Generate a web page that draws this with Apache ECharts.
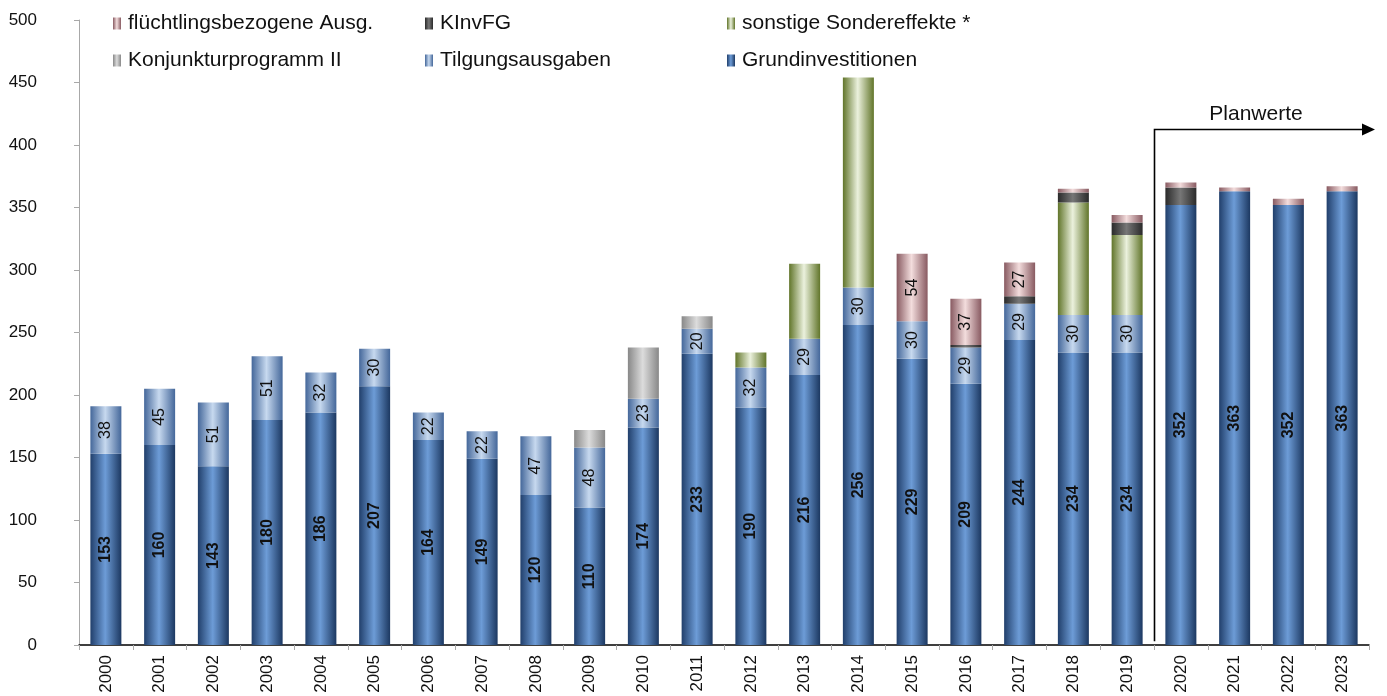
<!DOCTYPE html>
<html>
<head>
<meta charset="utf-8">
<script src="https://cdn.jsdelivr.net/npm/echarts@6/dist/echarts.min.js"></script>
<style>
  html, body { margin: 0; padding: 0; background: #fff; }
  #chart { width: 1387px; height: 696px; }
</style>
</head>
<body>
<div id="chart"></div>
<script>
// Jahre und Ausgabenkomponenten (Mio. EUR)
const years = ['2000','2001','2002','2003','2004','2005','2006','2007','2008','2009','2010','2011',
               '2012','2013','2014','2015','2016','2017','2018','2019','2020','2021','2022','2023'];
const grundinvestitionen = [153,160,143,180,186,207,164,149,120,110,174,233,190,216,256,229,209,244,234,234,352,363,352,363];
const tilgungsausgaben   = [38,45,51,51,32,30,22,22,47,48,23,20,32,29,30,30,29,29,30,30,0,0,0,0];
const konjunkturprogramm = [0,0,0,0,0,0,0,0,0,14,41,10,0,0,0,0,0,0,0,0,0,0,0,0];
const sondereffekte      = [0,0,0,0,0,0,0,0,0,0,0,0,12,60,168,0,0,0,90,64,0,0,0,0];
const kinvfg             = [0,0,0,0,0,0,0,0,0,0,0,0,0,0,0,0,2,6,8,10,14,0,0,0];
const fluechtlinge       = [0,0,0,0,0,0,0,0,0,0,0,0,0,0,0,54,37,27,3,6,4,3,5,4];
const yTicks = { min: 0, max: 500, interval: 50 };
const planStart = '2020';

const FONT = '"Liberation Sans", Arial, sans-serif';

function grad(edgeL, mid, edgeR) {
  return new echarts.graphic.LinearGradient(0, 0, 1, 0, [
    { offset: 0, color: edgeL },
    { offset: 0.48, color: mid },
    { offset: 1, color: edgeR }
  ]);
}

const seriesDefs = [
  { name: 'Grundinvestitionen', data: grundinvestitionen, color: grad('#213f6b', '#6d9cd7', '#1c3861'),
    label: { show: true, fontWeight: 'bold', minValue: 1 } },
  { name: 'Tilgungsausgaben', data: tilgungsausgaben, color: grad('#44679a', '#c7d9ef', '#44679a'),
    label: { show: true, fontWeight: 'normal', minValue: 1 } },
  { name: 'Konjunkturprogramm II', data: konjunkturprogramm, color: grad('#888888', '#dcdcdc', '#888888') },
  { name: 'sonstige Sondereffekte *', data: sondereffekte, color: grad('#61752a', '#ebf1dd', '#61752a') },
  { name: 'KInvFG', data: kinvfg, color: grad('#2a2a2a', '#777777', '#2a2a2a') },
  { name: 'flüchtlingsbezogene Ausg.', data: fluechtlinge, color: grad('#885a61', '#f3dddd', '#885a61'),
    label: { show: true, fontWeight: 'normal', minValue: 20 } }
];

const series = seriesDefs.map(d => ({
  name: d.name,
  type: 'bar',
  stack: 'total',
  barWidth: 31,
  data: d.data,
  itemStyle: { color: d.color },
  label: d.label ? {
    show: true,
    position: 'inside',
    rotate: 90,
    fontFamily: FONT,
    fontSize: 16,
    fontWeight: d.label.fontWeight,
    color: '#111',
    formatter: p => (p.value >= d.label.minValue ? String(p.value) : '')
  } : { show: false },
  emphasis: { disabled: true }
}));

// Legende: zwei Zeilen mit je drei Einträgen
const legendLayout = [
  { name: 'flüchtlingsbezogene Ausg.', left: 113, top: 13 },
  { name: 'KInvFG', left: 425, top: 13 },
  { name: 'sonstige Sondereffekte *', left: 727, top: 13 },
  { name: 'Konjunkturprogramm II', left: 113, top: 50 },
  { name: 'Tilgungsausgaben', left: 425, top: 50 },
  { name: 'Grundinvestitionen', left: 727, top: 50 }
];
const legends = legendLayout.map(l => ({
  data: [l.name],
  left: l.left,
  top: l.top,
  itemWidth: 8,
  itemHeight: 12,
  itemGap: 0,
  padding: 0,
  icon: 'rect',
  selectedMode: false,
  textStyle: { fontFamily: FONT, fontSize: 21, color: '#111', padding: [0, 0, 0, 2] }
}));

const chart = echarts.init(document.getElementById('chart'), null, { renderer: 'canvas' });
chart.setOption({
  animation: false,
  backgroundColor: '#fff',
  legend: legends,
  grid: { left: 79, right: 18, top: 20, bottom: 51, containLabel: false },
  xAxis: {
    type: 'category',
    data: years,
    axisLine: { lineStyle: { color: '#000', width: 1.5 } },
    axisTick: { show: true, length: 5, lineStyle: { color: '#aaa' } },
    axisLabel: { rotate: 90, margin: 10, fontFamily: FONT, fontSize: 17, color: '#111' }
  },
  yAxis: {
    type: 'value',
    min: yTicks.min,
    max: yTicks.max,
    interval: yTicks.interval,
    axisLine: { show: true, lineStyle: { color: '#a8a8a8' } },
    axisTick: { show: true, length: 5, lineStyle: { color: '#a8a8a8' } },
    splitLine: { show: false },
    axisLabel: { margin: 42, fontFamily: FONT, fontSize: 17, color: '#111' }
  },
  series
});

// Markierung der Planwerte ab 2020
function drawPlan() {
  const idx = years.indexOf(planStart);
  const xPrev = chart.convertToPixel({ xAxisIndex: 0 }, years[idx - 1]);
  const xCur = chart.convertToPixel({ xAxisIndex: 0 }, years[idx]);
  const x = Math.round((xPrev + xCur) / 2) + 0.5;
  const yTop = Math.round(chart.convertToPixel({ yAxisIndex: 0 }, 413)) + 0.5;
  const yBot = chart.convertToPixel({ yAxisIndex: 0 }, 3);
  const xEnd = chart.getWidth() - 12;
  chart.setOption({
    graphic: [
      { type: 'polyline', shape: { points: [[x, yBot], [x, yTop], [xEnd - 10, yTop]] },
        style: { stroke: '#000', lineWidth: 1.6, fill: null }, silent: true },
      { type: 'polygon', shape: { points: [[xEnd - 13, yTop - 6], [xEnd, yTop], [xEnd - 13, yTop + 6]] },
        style: { fill: '#000' }, silent: true },
      { type: 'text', x: 1256, y: yTop - 15,
        style: { text: 'Planwerte', font: '21px ' + FONT, fill: '#111', align: 'center', verticalAlign: 'middle' },
        silent: true }
    ]
  });
}
drawPlan();
</script>
</body>
</html>
